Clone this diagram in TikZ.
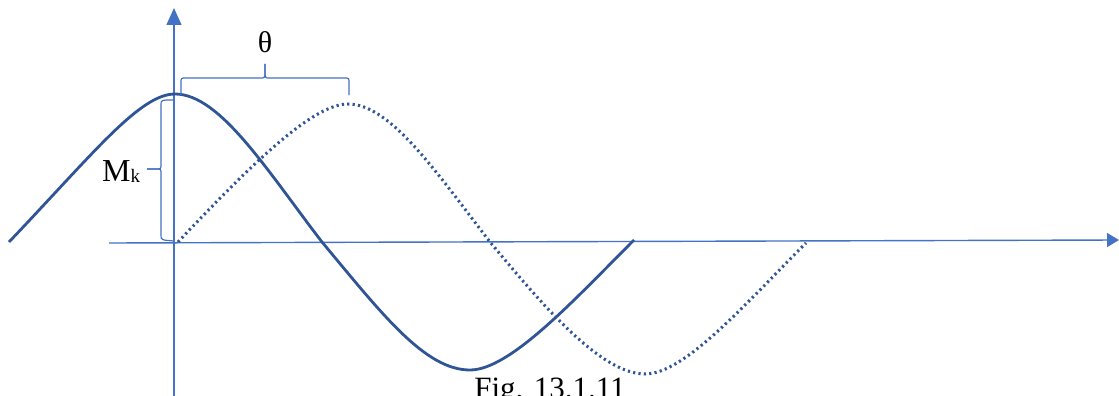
\documentclass[tikz,border=0pt]{standalone}
\usepackage{fontspec}
\setmainfont{Liberation Serif}
\usetikzlibrary{arrows.meta}
\definecolor{axisblue}{HTML}{4472C4}
\definecolor{curveblue}{HTML}{2F5597}
\tikzset{
  axisline/.style={draw=axisblue, line width=1.4pt},
  bracelines/.style={draw=axisblue, line width=1.2pt},
  solidcurve/.style={draw=curveblue, line width=2.8pt},
  dottedcurve/.style={draw=curveblue, line width=3pt, dash pattern=on 2.2pt off 3.2pt},
  lbl/.style={inner sep=0pt, text=black}
}
\begin{document}
\begin{tikzpicture}[x=1pt, y=-1pt]
\useasboundingbox (0,0) rectangle (1119,396);
% axes
\coordinate (xstart) at (109,243);
\coordinate (xend) at (1119,240);
\coordinate (ystart) at (174,396);
\coordinate (yend) at (174,8);
\draw[axisline, -{Triangle[length=12pt, width=14pt]}] (xstart) -- (xend);
\draw[axisline, -{Triangle[length=17pt, width=15pt]}] (ystart) -- (yend);
% solid curve
\draw[solidcurve] (9,242) .. controls (94,152.75) and (140,94) .. (175,94)
  .. controls (220,94) and (267,170.5) .. (322,242)
  .. controls (382,314) and (425,370) .. (470,370)
  .. controls (510,370) and (574,300) .. (634,240);
% dotted curve
\draw[dottedcurve] (178,242) .. controls (253,162.5) and (313,104) .. (348,104)
  .. controls (390,104) and (435,170.5) .. (490,242)
  .. controls (540,302) and (600,374) .. (645,374)
  .. controls (685,374) and (746,303) .. (806,243);
% theta brace
\draw[bracelines] (181,95) -- (181,83) .. controls (181,78) .. (186,78) -- (260,78)
  .. controls (265,78) .. (265,72) -- (265,64);
\draw[bracelines] (265,64) -- (265,72) .. controls (265,78) .. (270,78) -- (344,78)
  .. controls (349,78) .. (349,83) -- (349,95);
\node[lbl, anchor=base, font=\fontsize{30}{30}\selectfont] (theta) at (265,53) {θ};
% Mk brace
\draw[bracelines] (173,100) .. controls (161,100) .. (161,105) -- (161,164)
  .. controls (161,169) .. (156,169) -- (147,169);
\draw[bracelines] (147,169) -- (156,169) .. controls (161,169) .. (161,174) -- (161,235)
  .. controls (161,240) .. (174,241);
\node[lbl, anchor=base west, font=\fontsize{32}{32}\selectfont] (mk) at (102,181)
  {M\raisebox{-1.5pt}{\fontsize{19}{19}\selectfont k}};
% caption
\node[lbl, anchor=base, font=\fontsize{31}{31}\selectfont] (caption) at (550,398) {Fig. 13.1.11};
\end{tikzpicture}
\end{document}
